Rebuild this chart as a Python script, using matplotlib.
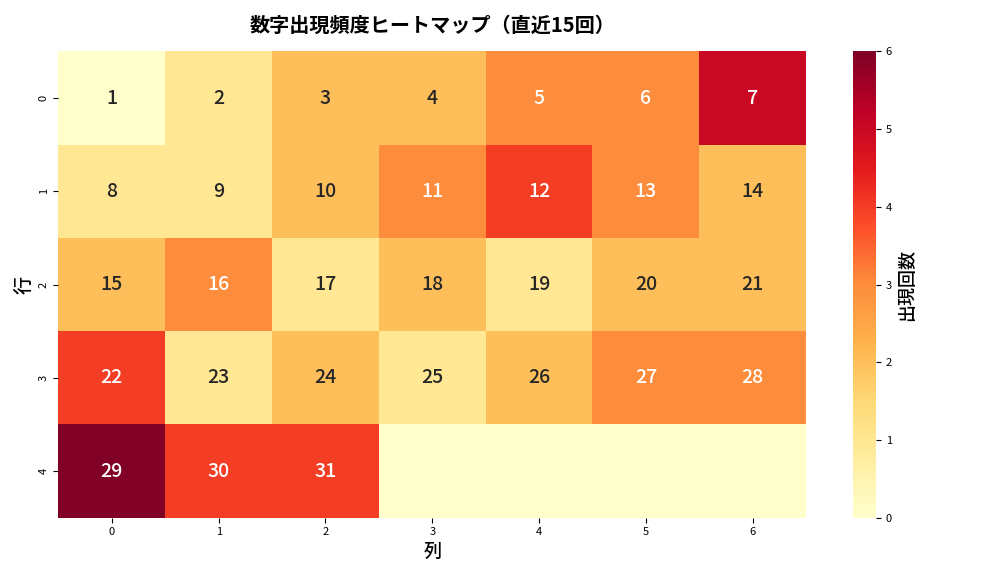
import numpy as np
import matplotlib
matplotlib.use("Agg")
import matplotlib.pyplot as plt
import seaborn as sns

plt.rcParams['font.family'] = ['Noto Sans CJK JP', 'DejaVu Sans']

# 出現回数 (直近15回), 5x7 grid, numbers 1..31
counts = [
    [0, 1, 2, 2, 3, 3, 5],
    [1, 1, 2, 3, 4, 3, 2],
    [2, 3, 1, 2, 1, 2, 2],
    [4, 1, 2, 1, 2, 3, 3],
    [6, 4, 4, 0, 0, 0, 0],
]
numbers = [
    ["1", "2", "3", "4", "5", "6", "7"],
    ["8", "9", "10", "11", "12", "13", "14"],
    ["15", "16", "17", "18", "19", "20", "21"],
    ["22", "23", "24", "25", "26", "27", "28"],
    ["29", "30", "31", "", "", "", ""],
]

fig, ax = plt.subplots(figsize=(10.08, 5.76), dpi=100)
sns.heatmap(np.array(counts), annot=np.array(numbers), fmt="", cmap="YlOrRd",
            vmin=0, vmax=6, ax=ax, cbar_kws={'label': '出現回数'},
            annot_kws={'fontsize': 14, 'fontweight': 'medium'})
ax.set_title('数字出現頻度ヒートマップ（直近15回）', fontsize=14.5, fontweight='bold', pad=14)
ax.set_xlabel('列', fontsize=13, fontweight='medium')
ax.set_ylabel('行', fontsize=13, fontweight='medium')
ax.tick_params(labelsize=8)
cbar = ax.collections[0].colorbar
cbar.ax.tick_params(labelsize=8)
cbar.set_label('出現回数', fontsize=13, fontweight='medium')

fig.tight_layout()
fig.savefig("out.png")
